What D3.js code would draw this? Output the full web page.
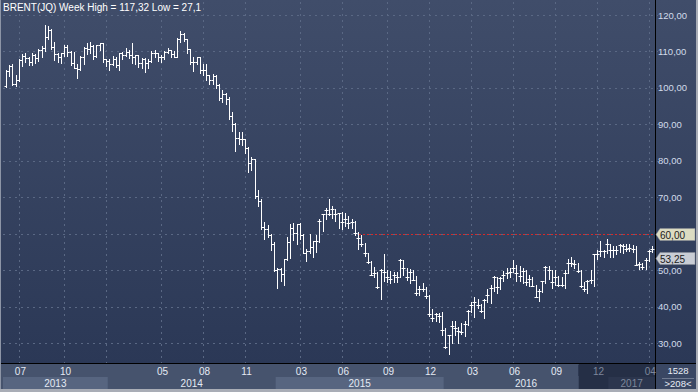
<!DOCTYPE html>
<html><head><meta charset="utf-8">
<script src="https://cdn.jsdelivr.net/npm/d3@7"></script>
<style>html,body{margin:0;padding:0;background:#3a4763;overflow:hidden;} svg{display:block;}</style>
</head><body><svg id="c" width="698" height="392"></svg>
<script>
// ---- data (weekly Brent OHLC) ----
const startWeek = "2013-06-03";
const skippedWeeks = ["2016-12-26"];
const openP = [100.4,104.6,105.9,101.2,102.2,107.7,108.8,108.1,107.2,108.9,108.1,110.4,111.0,114.0,116.0,111.3,109.2,108.6,109.5,111.3,109.9,106.9,105.5,105.1,108.5,111.0,110.8,111.6,108.8,111.8,112.2,
107.8,107.3,106.5,107.9,106.4,109.6,109.1,109.9,109.1,108.6,108.9,106.9,107.8,106.7,107.3,109.5,109.6,108.6,108.4,109.8,110.5,109.4,108.6,113.4,114.8,113.3,110.6,107.0,107.2,108.4,105.0,105.0,103.5,102.3,103.2,100.8,97.1,98.4,97.0,92.3,90.2,86.2,86.1,85.9,83.4,79.4,80.4,70.2,69.1,61.9,61.4,59.5,
57.3,50.1,50.2,48.8,53.0,57.8,61.5,60.2,62.6,59.7,54.7,55.3,56.4,57.9,63.5,65.3,66.5,65.4,66.8,65.4,65.6,63.3,63.9,63.0,63.3,60.3,58.7,57.1,54.6,52.2,48.6,49.2,45.5,50.1,49.6,48.1,47.5,48.6,48.1,52.7,50.5,48.0,49.6,47.4,43.6,44.7,44.9,43.0,37.9,36.9,37.9,
37.3,33.6,28.9,32.2,34.7,34.1,33.4,33.0,35.1,38.7,40.4,41.2,40.4,38.7,41.9,43.1,45.1,48.1,45.4,47.8,48.7,49.3,49.6,50.5,49.2,48.4,49.7,46.8,47.6,45.7,42.5,44.3,46.9,50.9,49.9,46.8,48.0,45.8,45.9,49.2,51.9,51.9,51.8,49.7,45.6,44.8,46.9,47.2,54.5,54.3,55.2,
55.2,57.1,55.5,55.5,55.5,56.8,56.7,55.8,56.0,55.9,51.4,51.8,50.8,52.8,55.2,55.9];
const highP = [104.9,106.3,106.5,103.5,108.0,109.2,109.6,108.6,109.6,109.2,110.8,111.6,117.3,117.0,116.2,112.6,109.6,109.6,111.7,111.9,110.1,109.9,106.5,108.7,111.2,112.2,112.5,111.8,111.8,112.4,112.3,
108.0,107.9,108.7,108.5,109.6,109.8,111.0,110.5,112.4,109.0,108.9,108.3,108.2,108.0,110.0,110.5,109.6,109.0,110.1,111.0,110.5,110.0,113.8,115.7,115.0,113.4,110.8,108.5,108.5,108.6,106.5,106.6,103.5,103.8,103.5,101.0,99.4,98.6,97.5,93.4,90.5,88.0,88.0,86.0,83.7,81.0,80.5,72.0,69.4,63.2,62.5,59.9,
57.6,50.5,50.5,53.0,59.1,62.6,63.0,62.6,62.8,60.0,55.8,59.8,58.0,59.5,64.0,65.5,67.1,69.6,67.7,66.9,65.8,65.9,65.8,64.9,64.0,63.6,60.5,59.5,57.4,54.8,52.5,50.8,49.5,50.3,54.5,50.0,49.8,49.5,49.4,53.1,52.9,50.6,50.2,50.0,48.3,45.6,46.4,45.3,43.2,39.2,38.2,38.2,
38.5,34.0,32.2,36.0,36.0,34.5,35.6,36.0,39.0,41.2,42.5,42.0,40.6,42.0,44.7,45.8,48.5,48.2,48.1,49.7,50.5,50.5,52.9,51.4,51.1,50.6,50.0,48.7,48.1,45.9,44.9,47.0,51.2,51.0,50.0,49.9,48.4,48.0,50.0,53.1,53.7,52.8,51.9,49.9,46.8,47.2,49.9,54.5,55.6,57.9,55.6,
58.4,57.3,56.6,56.5,57.3,57.2,57.3,57.1,56.9,56.5,52.3,52.0,53.3,55.5,56.7,55.9];
const lowP = [100.2,103.3,100.9,100.6,101.9,106.1,107.0,106.4,106.3,106.8,107.4,108.5,110.2,113.4,110.7,107.6,107.2,106.7,108.8,108.7,106.3,105.4,102.6,104.9,106.6,109.4,109.6,107.9,108.4,110.5,107.0,
105.9,104.9,106.2,105.7,104.9,107.9,108.7,108.2,106.9,106.6,105.6,105.5,104.4,105.5,107.1,108.5,107.5,107.2,107.9,109.5,108.6,108.6,108.6,112.5,112.8,109.7,106.6,104.6,106.6,104.2,103.5,102.1,101.0,101.0,100.0,96.6,96.2,95.6,91.5,88.1,82.6,84.7,84.2,82.1,76.8,77.4,69.8,67.5,61.3,58.5,59.2,55.6,
49.7,45.2,47.0,45.8,52.9,53.4,58.3,57.1,58.6,54.6,52.5,54.6,53.6,55.0,57.6,60.7,64.1,65.0,64.2,63.6,61.6,61.3,62.0,61.6,61.5,59.5,55.9,56.5,53.8,51.9,48.6,48.1,45.1,42.2,47.0,46.8,46.6,46.7,46.8,48.0,48.6,47.2,46.6,47.4,43.3,43.1,44.2,42.4,37.3,36.0,35.9,35.8,
32.2,28.5,27.1,29.9,32.1,30.0,32.4,32.0,35.0,38.4,37.2,39.7,38.5,36.8,41.3,40.9,44.4,43.6,44.9,47.0,47.8,48.1,49.5,46.9,46.9,46.6,45.8,45.7,45.6,42.5,41.5,44.0,46.6,47.6,45.1,46.0,45.6,45.6,45.1,49.1,51.0,50.6,49.6,45.4,44.2,43.6,46.6,45.6,53.0,53.8,53.6,
54.6,53.6,53.6,54.5,55.0,54.8,55.3,55.3,55.0,51.3,50.3,50.3,50.4,52.6,55.0,52.8];
const closeP = [104.6,105.9,101.2,102.2,107.7,108.8,108.1,107.2,108.9,108.1,110.4,111.0,114.0,116.0,111.3,109.2,108.6,109.5,111.3,109.9,106.9,105.5,105.1,108.5,111.0,110.8,111.6,108.8,111.8,112.2,107.8,
107.3,106.5,107.9,106.4,109.6,109.1,109.9,109.1,108.6,108.9,106.9,107.8,106.7,107.3,109.5,109.6,108.6,108.4,109.8,110.5,109.4,108.6,113.4,114.8,113.3,110.6,107.0,107.2,108.4,105.0,105.0,103.5,102.3,103.2,100.8,97.1,98.4,97.0,92.3,90.2,86.2,86.1,85.9,83.4,79.4,80.4,70.2,69.1,61.9,61.4,59.5,57.3,
50.1,50.2,48.8,53.0,57.8,61.5,60.2,62.6,59.7,54.7,55.3,56.4,57.9,57.9,63.5,65.3,66.5,65.4,66.8,65.4,65.6,63.3,63.9,63.0,63.3,60.3,58.7,57.1,54.6,52.2,48.6,49.2,45.5,50.1,49.6,48.1,47.5,48.6,48.1,52.7,50.5,48.0,49.6,47.4,43.6,44.7,44.9,43.0,37.9,36.9,37.9,37.3,
33.6,28.9,32.2,34.7,34.1,33.4,33.0,35.1,38.7,40.4,41.2,40.4,38.7,41.9,43.1,45.1,48.1,45.4,47.8,48.7,49.3,49.6,50.5,49.2,48.4,49.7,46.8,47.6,45.7,42.5,44.3,46.9,50.9,49.9,46.8,48.0,45.8,45.9,49.2,51.9,51.9,51.8,49.7,45.6,44.8,46.9,47.2,54.5,54.3,55.2,55.2,
57.1,55.5,55.5,55.5,56.8,56.7,55.8,56.0,55.9,51.4,51.8,50.8,52.8,55.2,55.9,53.25];
const yTicks = [30,40,50,60,70,80,90,100,110,120];
const monthTicks = ["2013-07","2013-10","2014-01","2014-05","2014-08","2014-11","2015-03","2015-06","2015-09","2015-12","2016-03","2016-06","2016-09","2016-12","2017-04"];
const monthLabels = ["07","10","","05","08","11","03","06","09","12","03","06","09","12","04"];
const years = ["2013","2014","2015","2016","2017"];
const levelLine = 60;
const lastValue = 53.25;
const titleText = "BRENT(JQ) Week High = 117,32 Low = 27,1";
const boxTop = "1528", boxBottom = ">208<";

// ---- build dates ----
const parse = d3.utcParse("%Y-%m-%d");
const fmt = d3.utcFormat("%Y-%m-%d");
const dates = [];
{ let d = parse(startWeek);
  while (dates.length < openP.length) {
    if (!skippedWeeks.includes(fmt(d))) dates.push(d);
    d = d3.utcWeek.offset(d, 1);
  } }
const bars = dates.map((d,i)=>({d, o:openP[i], h:highP[i], l:lowP[i], c:closeP[i]}));

const W = 698, H = 392;
const plot = {l:3, r:655, t:0, b:363};
const x = d3.scaleLinear().domain([0, bars.length-1]).range([6, 652]);
const y = d3.scaleLinear().domain([30,120]).range([343,15]);
const fmtNum = v => d3.format(".2f")(v).replace(".", ",");
const FONT = "Liberation Sans, Arial, sans-serif";

const svg = d3.select("#c");
const defs = svg.append("defs");
const g1 = defs.append("linearGradient").attr("id","bg").attr("x1",0).attr("y1",0).attr("x2",0).attr("y2",1);
g1.append("stop").attr("offset","0%").attr("stop-color","#404d6a");
g1.append("stop").attr("offset","100%").attr("stop-color","#2b3856");

svg.append("rect").attr("width",W).attr("height",H).attr("fill","#3a4763");
svg.append("rect").attr("x",0).attr("y",0).attr("width",696).attr("height",364).attr("fill","url(#bg)");

// bottom axis panel
svg.append("rect").attr("x",0).attr("y",364).attr("width",656).attr("height",25).attr("fill","#46536d");
const firstIdx = ys => bars.findIndex(b => b.d.getUTCFullYear() === +ys);
const yearEdges = years.map(ys => firstIdx(ys)===0 ? 3 : x(firstIdx(ys)) + 1.6);
yearEdges.push(655);
years.forEach((ys,i)=>{
  if (i % 2 === 0) svg.append("rect").attr("x",yearEdges[i]).attr("y",377).attr("width",yearEdges[i+1]-yearEdges[i]).attr("height",12).attr("fill","#576580");
});
// dark overlay at the right of the time axis
const ovX = x(bars.findIndex(b => fmt(b.d) >= "2016-10-24")) + 1;
svg.append("rect").attr("x",ovX).attr("y",364).attr("width",655-ovX).attr("height",25).attr("fill","rgba(18,26,46,0.62)");
svg.append("line").attr("x1",ovX).attr("x2",ovX).attr("y1",365).attr("y2",376).attr("stroke","#2a354d");

// gridlines
const tickIdx = monthTicks.map(m => bars.findIndex(b => fmt(b.d).slice(0,7) === m));
svg.append("g").selectAll("line").data(yTicks).join("line")
  .attr("x1",plot.l).attr("x2",658).attr("y1",v=>Math.round(y(v))+0.5).attr("y2",v=>Math.round(y(v))+0.5)
  .attr("stroke","#5a6884").attr("stroke-dasharray","2,4");
svg.append("g").selectAll("line").data(tickIdx).join("line")
  .attr("x1",i=>Math.round(x(i))+0.5).attr("x2",i=>Math.round(x(i))+0.5).attr("y1",2).attr("y2",363)
  .attr("stroke","#5a6884").attr("stroke-dasharray","2,4");

// level line 60
svg.append("line").attr("x1",359).attr("x2",655).attr("y1",Math.round(y(levelLine))+0.5).attr("y2",Math.round(y(levelLine))+0.5)
  .attr("stroke","#d42a2a").attr("stroke-dasharray","2,2");

// OHLC bars
const gb = svg.append("g").attr("stroke","#ffffff").attr("stroke-width",1).attr("fill","none");
bars.forEach((b,i)=>{
  const xc = Math.round(x(i)) + 0.5;
  gb.append("line").attr("x1",xc).attr("x2",xc).attr("y1",Math.round(y(b.h))).attr("y2",Math.round(y(b.l))+1);
  gb.append("line").attr("x1",xc-2).attr("x2",xc).attr("y1",Math.round(y(b.o))+0.5).attr("y2",Math.round(y(b.o))+0.5);
  gb.append("line").attr("x1",xc).attr("x2",xc+2).attr("y1",Math.round(y(b.c))+0.5).attr("y2",Math.round(y(b.c))+0.5);
});

// frame lines
svg.append("line").attr("x1",655.5).attr("x2",655.5).attr("y1",0).attr("y2",389).attr("stroke","#000");
svg.append("line").attr("x1",0).attr("x2",696).attr("y1",363.5).attr("y2",363.5).attr("stroke","#000");

// y axis labels (the 60 level is shown by its marker instead)
svg.append("g").selectAll("text").data(yTicks.filter(v => v !== levelLine)).join("text")
  .attr("x",658).attr("y",v=>y(v)+3.5).text(fmtNum)
  .attr("font-family",FONT).attr("font-size","9.5px").attr("fill","#d2dbea");

// price markers
function marker(v, col){
  const yy = Math.round(y(v)) + 0.5;
  svg.append("path").attr("d",`M656,${yy} L660,${yy-6} L695,${yy-6} L695,${yy+6} L660,${yy+6} Z`)
    .attr("fill",col).attr("stroke","#8a8f96").attr("stroke-width",0.5);
  svg.append("text").attr("x",660).attr("y",yy+4).text(fmtNum(v))
    .attr("font-family",FONT).attr("font-size","10px").attr("fill","#1b1b1b");
}
marker(levelLine, "#dcdcc2");
marker(lastValue, "#c9cdd5");

// month labels
svg.append("g").selectAll("text").data(tickIdx).join("text")
  .attr("x",i=>x(i)+1.5).attr("y",375).attr("text-anchor","middle")
  .text((i,k)=>monthLabels[k])
  .attr("font-family",FONT).attr("font-size","10px")
  .attr("fill",i=>x(i) > ovX ? "#7d879b" : "#e4eaf4");
// year labels
svg.append("g").selectAll("text").data(years).join("text")
  .attr("x",(ys,i)=>(yearEdges[i]+yearEdges[i+1])/2).attr("y",386.5).attr("text-anchor","middle")
  .text(d=>d)
  .attr("font-family",FONT).attr("font-size","10px")
  .attr("fill",(ys,i)=>yearEdges[i] > ovX ? "#7d879b" : "#e4eaf4");

// bottom-right box
svg.append("text").attr("x",678).attr("y",374).attr("text-anchor","middle").text(boxTop)
  .attr("font-family",FONT).attr("font-size","9.5px").attr("fill","#e8edf5");
svg.append("line").attr("x1",662).attr("x2",694).attr("y1",378.5).attr("y2",378.5).attr("stroke","#6f7a90");
svg.append("text").attr("x",678).attr("y",386.5).attr("text-anchor","middle").text(boxBottom)
  .attr("font-family",FONT).attr("font-size","9.5px").attr("fill","#e8edf5");

// outer border
svg.append("rect").attr("x",0).attr("y",389).attr("width",W).attr("height",3).attr("fill","#a9adb6");
svg.append("rect").attr("x",696).attr("y",0).attr("width",2).attr("height",H).attr("fill","#a9adb6");
svg.append("rect").attr("x",0).attr("y",0).attr("width",1).attr("height",389).attr("fill","#8d95a6");

// title
svg.append("text").attr("x",3).attr("y",11).text(titleText)
  .attr("font-family",FONT).attr("font-size","10px").attr("fill","#ffffff");
</script></body></html>
